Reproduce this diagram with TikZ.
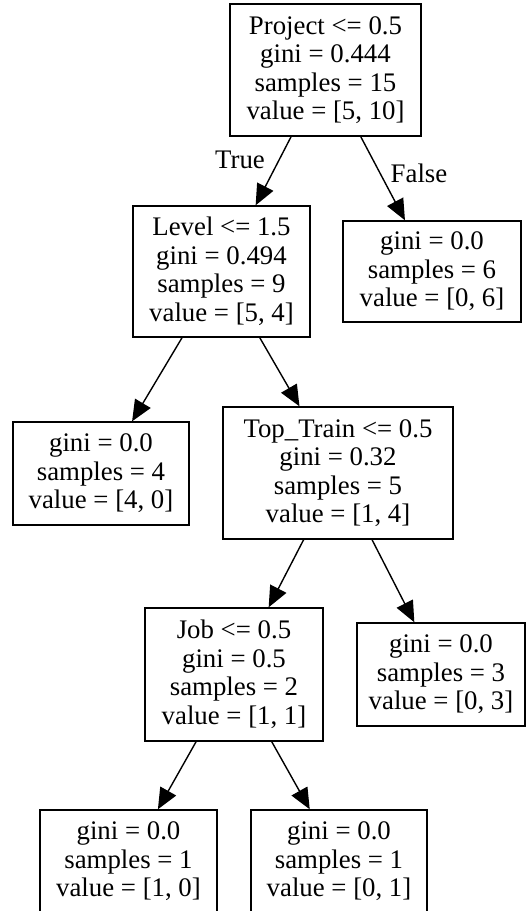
\documentclass[tikz,border=0pt]{standalone}
\usepackage{fontspec}
\setmainfont{Liberation Serif}
\usetikzlibrary{arrows.meta}
\begin{document}
\begin{tikzpicture}[x=1pt,y=-1pt,
  box/.style={draw=black,line width=1.4pt,rectangle,inner sep=0pt,align=center,
    font=\fontsize{26.8pt}{28.5pt}\selectfont},
  lbl/.style={font=\fontsize{26.8pt}{28.5pt}\selectfont,inner sep=0pt,anchor=base},
  arr/.style={draw=black,line width=1.4pt,-{Triangle[length=21pt,width=18pt]}}]
\useasboundingbox (0,0) rectangle (526,911);
\fill[white] (0,0) rectangle (526,911);
\node[box,minimum width=191pt,minimum height=132pt] (root) at (325.5,70)
  {Project <= 0.5\\gini = 0.444\\samples = 15\\value = [5, 10]};
\node[box,minimum width=177pt,minimum height=131pt] (level) at (221.5,271.5)
  {Level <= 1.5\\gini = 0.494\\samples = 9\\value = [5, 4]};
\node[box,minimum width=178pt,minimum height=101pt] (leafsix) at (432,271.5)
  {gini = 0.0\\samples = 6\\value = [0, 6]};
\node[box,minimum width=176pt,minimum height=103pt] (leaffour) at (101,473.5)
  {gini = 0.0\\samples = 4\\value = [4, 0]};
\node[box,minimum width=230pt,minimum height=132pt] (toptrain) at (338,473)
  {Top\_Train <= 0.5\\gini = 0.32\\samples = 5\\value = [1, 4]};
\node[box,minimum width=178pt,minimum height=133pt] (job) at (234,674.5)
  {Job <= 0.5\\gini = 0.5\\samples = 2\\value = [1, 1]};
\node[box,minimum width=168pt,minimum height=103pt] (leafthree) at (441,674.5)
  {gini = 0.0\\samples = 3\\value = [0, 3]};
\node[box,minimum width=177pt,minimum height=103pt] (leafonezero) at (128.5,861.5)
  {gini = 0.0\\samples = 1\\value = [1, 0]};
\node[box,minimum width=176pt,minimum height=103pt] (leafzeroone) at (339,861.5)
  {gini = 0.0\\samples = 1\\value = [0, 1]};
\node[lbl] (truelab) at (240,168) {True};
\node[lbl] (falselab) at (419,182) {False};
\draw[arr] (root) -- (level);
\draw[arr] (root) -- (leafsix);
\draw[arr] (level) -- (leaffour);
\draw[arr] (level) -- (toptrain);
\draw[arr] (toptrain) -- (job);
\draw[arr] (toptrain) -- (leafthree);
\draw[arr] (job) -- (leafonezero);
\draw[arr] (job) -- (leafzeroone);
\end{tikzpicture}
\end{document}
